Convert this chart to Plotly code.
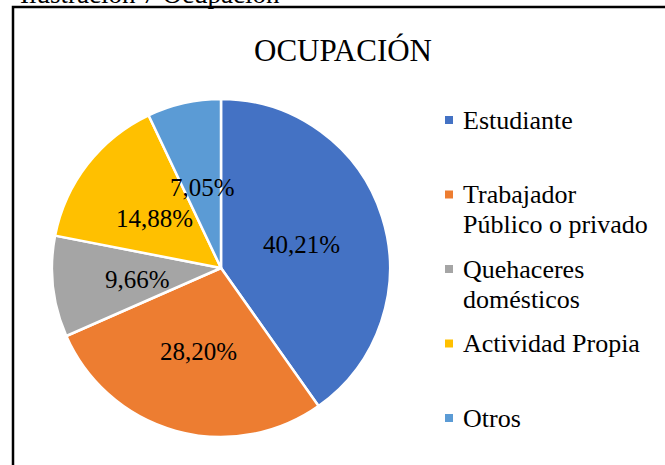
import math
import plotly.graph_objects as go

# ---- data ----
categories = ["Estudiante", "Trabajador Público o privado", "Quehaceres domésticos",
              "Actividad Propia", "Otros"]
legend_lines = [["Estudiante"], ["Trabajador", "Público o privado"],
                ["Quehaceres", "domésticos"], ["Actividad Propia"], ["Otros"]]
values = [40.21, 28.20, 9.66, 14.88, 7.05]
colors = ["#4472C4", "#ED7D31", "#A5A5A5", "#FFC000", "#5B9BD5"]
title_text = "OCUPACIÓN"
caption_text = "Ilustración 7 Ocupación"

W, H = 665, 465
FONT = "Liberation Serif"

# pie geometry (pixels)
CX, CY, R = 221, 268, 169
LABEL_FRAC = 0.5


def px_x(x):
    return x / W


def px_y(y):
    return 1 - y / H


fig = go.Figure()
fig.add_trace(go.Pie(
    labels=categories,
    values=values,
    sort=False,
    direction="clockwise",
    rotation=0,
    marker=dict(colors=colors, line=dict(color="white", width=2.5)),
    textinfo="none",
    domain=dict(x=[px_x(CX - R), px_x(CX + R)], y=[px_y(CY + R), px_y(CY - R)]),
    showlegend=False,
    hoverinfo="label+percent",
))

annotations = []
shapes = []

# data labels at the middle angle of each slice, half radius (like Excel)
total = sum(values)
cum = 0.0
for v in values:
    mid = (cum + v / 2) / total * 2 * math.pi
    cum += v
    lx = CX + LABEL_FRAC * R * math.sin(mid)
    ly = CY - LABEL_FRAC * R * math.cos(mid)
    annotations.append(dict(text=f"{v:.2f}%".replace(".", ","), x=px_x(lx), y=px_y(ly + 2),
                            xref="paper", yref="paper", xanchor="center", yanchor="middle",
                            showarrow=False, font=dict(family=FONT, size=25, color="black")))

# caption partially cut at top
annotations.append(dict(text=caption_text, x=px_x(18), y=px_y(11), xref="paper", yref="paper",
                        xanchor="left", yanchor="bottom", showarrow=False,
                        font=dict(family=FONT, size=27, color="black")))
# title
annotations.append(dict(text=title_text, x=px_x(343), y=px_y(50), xref="paper", yref="paper",
                        xanchor="center", yanchor="middle", showarrow=False,
                        font=dict(family=FONT, size=31, color="black")))

# legend built from categories/colors
first_y = 120
step = 74.5
line_gap = 30
for i, (lines, col) in enumerate(zip(legend_lines, colors)):
    y0 = first_y + i * step
    shapes.append(dict(type="rect", xref="paper", yref="paper",
                       x0=px_x(445), x1=px_x(453), y0=px_y(y0 + 4), y1=px_y(y0 - 4),
                       fillcolor=col, line=dict(width=0)))
    for j, ln in enumerate(lines):
        annotations.append(dict(text=ln, x=px_x(461), y=px_y(y0 + j * line_gap),
                                xref="paper", yref="paper", xanchor="left", yanchor="middle",
                                showarrow=False, font=dict(family=FONT, size=26, color="black")))

# frame (left and top edges visible)
shapes.append(dict(type="rect", xref="paper", yref="paper",
                   x0=px_x(13), x1=1.02, y0=-0.02, y1=px_y(7),
                   line=dict(color="black", width=2.5), fillcolor="rgba(0,0,0,0)"))

fig.update_layout(
    width=W, height=H,
    margin=dict(l=0, r=0, t=0, b=0),
    paper_bgcolor="white",
    plot_bgcolor="white",
    annotations=annotations,
    shapes=shapes,
)

fig.write_html("out.html", config={"displayModeBar": False},
               post_script="document.body.style.margin='0px';")
